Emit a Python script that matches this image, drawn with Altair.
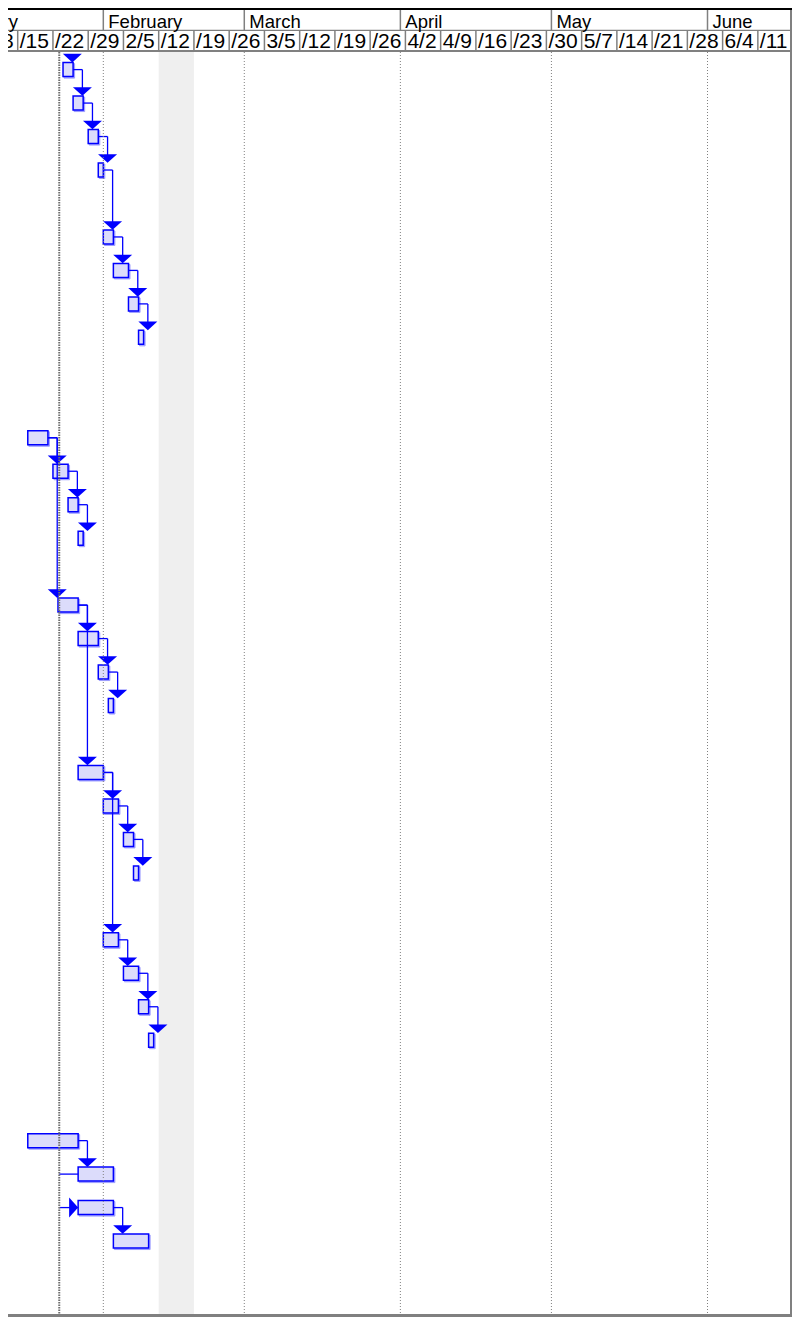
import altair as alt
import pandas as pd

# ---------------- data ----------------
month_names = ["January", "February", "March", "April", "May", "June"]
month_starts = ["2007-01-01", "2007-02-01", "2007-03-01", "2007-04-01", "2007-05-01", "2007-06-01"]

week_labels = ["1/8", "/15", "/22", "/29", "2/5", "/12", "/19", "/26", "3/5", "/12", "/19", "/26",
               "4/2", "4/9", "/16", "/23", "/30", "5/7", "/14", "/21", "/28", "6/4", "/11", ""]
week_starts = ["2007-01-08", "2007-01-15", "2007-01-22", "2007-01-29", "2007-02-05", "2007-02-12",
               "2007-02-19", "2007-02-26", "2007-03-05", "2007-03-12", "2007-03-19", "2007-03-26",
               "2007-04-02", "2007-04-09", "2007-04-16", "2007-04-23", "2007-04-30", "2007-05-07",
               "2007-05-14", "2007-05-21", "2007-05-28", "2007-06-04", "2007-06-11", "2007-06-18"]

task_rows = [0, 1, 2, 3, 5, 6, 7, 8,
             11, 12, 13, 14,
             16, 17, 18, 19,
             21, 22, 23, 24,
             26, 27, 28, 29,
             32, 33, 34, 35]
task_starts = ["2007-01-24", "2007-01-26", "2007-01-29", "2007-01-31", "2007-02-01", "2007-02-03", "2007-02-06", "2007-02-08",
               "2007-01-17", "2007-01-22", "2007-01-25", "2007-01-27",
               "2007-01-23", "2007-01-27", "2007-01-31", "2007-02-02",
               "2007-01-27", "2007-02-01", "2007-02-05", "2007-02-07",
               "2007-02-01", "2007-02-05", "2007-02-08", "2007-02-10",
               "2007-01-17", "2007-01-27", "2007-01-27", "2007-02-03"]
task_ends = ["2007-01-26", "2007-01-28", "2007-01-31", "2007-02-01", "2007-02-03", "2007-02-06", "2007-02-08", "2007-02-09",
             "2007-01-21", "2007-01-25", "2007-01-27", "2007-01-28",
             "2007-01-27", "2007-01-31", "2007-02-02", "2007-02-03",
             "2007-02-01", "2007-02-04", "2007-02-07", "2007-02-08",
             "2007-02-04", "2007-02-08", "2007-02-10", "2007-02-11",
             "2007-01-27", "2007-02-03", "2007-02-03", "2007-02-10"]

# finish-to-start links (predecessor row -> successor row)
link_from = [0, 1, 2, 3, 5, 6, 7, 11, 11, 12, 13, 16, 16, 17, 18, 21, 21, 22, 23, 26, 27, 28, 32, 34]
link_to = [1, 2, 3, 5, 6, 7, 8, 12, 16, 13, 14, 17, 21, 18, 19, 22, 26, 23, 24, 27, 28, 29, 33, 35]

# link coming from a predecessor scrolled out of view
offscreen_to_rows = [0]
offscreen_pred_ends = ["2007-01-24"]

# links entering from the left (status-date side)
stub_rows = [33, 34]
stub_has_arrow = [False, True]

status_date = "2007-01-23T06:00:00Z"
nonworking_start = ["2007-02-12"]
nonworking_end = ["2007-02-19"]

# ---------------- tables ----------------
tasks = pd.DataFrame({"row": task_rows, "start": task_starts, "end": task_ends})
end_by_row = dict(zip(task_rows, task_ends))
start_by_row = dict(zip(task_rows, task_starts))

links = pd.DataFrame({"from_row": link_from, "to_row": link_to,
                      "end": [end_by_row[r] for r in link_from]})
arrows = pd.concat([links[["end", "to_row"]],
                    pd.DataFrame({"end": offscreen_pred_ends, "to_row": offscreen_to_rows})],
                   ignore_index=True)
stubs = pd.DataFrame({"row": stub_rows, "from": [status_date] * len(stub_rows),
                      "to": [start_by_row[r] for r in stub_rows], "arrow": stub_has_arrow})
stub_arrows = stubs[stubs["arrow"]]

months = pd.DataFrame({"name": month_names, "start": month_starts})
weeks = pd.DataFrame({"label": week_labels, "start": week_starts})
band = pd.DataFrame({"start": nonworking_start, "end": nonworking_end})
status = pd.DataFrame({"date": [status_date]})
one = pd.DataFrame({"k": [0]})

# ---------------- scales ----------------
# page is 800x1325 with 8 px margins -> keep the view inside it (no scrolling)
W, H = 784, 1309
base = pd.Timestamp("2007-01-01", tz="UTC")


def ms(days):
    return int((base + pd.Timedelta(days=days)).value // 10**6)


PX_PER_DAY = 5.035
d0 = 28 - (88.2 - 8) / PX_PER_DAY          # date at left edge of the view
d1 = d0 + W / PX_PER_DAY                   # date at right edge of the view
xs = alt.Scale(type="utc", domain=[ms(d0), ms(d1)], nice=False)

ROW_PX, ROW0_Y = 33.47, 61.6
r_top = -ROW0_Y / ROW_PX
r_bot = (H - ROW0_Y) / ROW_PX
ys = alt.Scale(domain=[r_top, r_bot], reverse=True, nice=False, zero=False)

BLUE = "#0000ff"
GRAY = "#808080"
FONT = "Liberation Sans"
OFF = 9.3          # horizontal run of link lines (px)
HEAD_B = 44        # bottom of header (px)
BODY_B = H - 2     # bottom of body (px)

# ---------------- layers ----------------
shade = alt.Chart(band).mark_rect(color="#efefef").encode(
    x=alt.X("start:T", scale=xs, axis=None), x2="end:T",
    y=alt.value(HEAD_B), y2=alt.value(BODY_B))

bar_base = alt.Chart(tasks).transform_calculate(
    y0="datum.row - 0.209", y1="datum.row + 0.209")

bar_shadow = bar_base.mark_rect(fill="#b8b8ff", stroke="#9a9aff", strokeWidth=1,
                                xOffset=1, x2Offset=1.5, yOffset=1, y2Offset=1.5).encode(
    x=alt.X("start:T", scale=xs, axis=None), x2="end:T",
    y=alt.Y("y0:Q", scale=ys, axis=None), y2="y1:Q")

bars = bar_base.mark_rect(fill="#dcdcfb", stroke=BLUE, strokeWidth=1.5).encode(
    x=alt.X("start:T", scale=xs, axis=None), x2="end:T",
    y=alt.Y("y0:Q", scale=ys, axis=None), y2="y1:Q")

hlinks = alt.Chart(links).mark_rule(color=BLUE, strokeWidth=1.3, x2Offset=OFF).encode(
    x=alt.X("end:T", scale=xs, axis=None), x2="end:T",
    y=alt.Y("from_row:Q", scale=ys, axis=None))

vlinks = alt.Chart(links).mark_rule(color=BLUE, strokeWidth=1.3, xOffset=OFF, y2Offset=-11.5).encode(
    x=alt.X("end:T", scale=xs, axis=None),
    y=alt.Y("from_row:Q", scale=ys, axis=None), y2="to_row:Q")

down_arrows = alt.Chart(arrows).mark_point(
    shape="M-1,-0.45L1,-0.45L0,0.45Z", size=361, filled=True, opacity=1,
    color=BLUE, strokeWidth=0, xOffset=OFF, yOffset=-11.5).encode(
    x=alt.X("end:T", scale=xs, axis=None),
    y=alt.Y("to_row:Q", scale=ys, axis=None))

stub_lines = alt.Chart(stubs).mark_rule(color=BLUE, strokeWidth=1.3).encode(
    x=alt.X("from:T", scale=xs, axis=None), x2="to:T",
    y=alt.Y("row:Q", scale=ys, axis=None))

right_arrows = alt.Chart(stub_arrows).mark_point(
    shape="M-0.45,-1L0.45,0L-0.45,1Z", size=400, filled=True, opacity=1,
    color=BLUE, strokeWidth=0, xOffset=-4.5).encode(
    x=alt.X("to:T", scale=xs, axis=None),
    y=alt.Y("row:Q", scale=ys, axis=None))

month_grid = alt.Chart(months).mark_rule(color=GRAY, strokeWidth=1, strokeDash=[1, 2]).encode(
    x=alt.X("start:T", scale=xs, axis=None),
    y=alt.value(HEAD_B), y2=alt.value(BODY_B))

status_line = alt.Chart(status).mark_rule(color="#6e6e6e", strokeWidth=2, strokeDash=[1.5, 1]).encode(
    x=alt.X("date:T", scale=xs, axis=None),
    y=alt.value(HEAD_B), y2=alt.value(BODY_B))

# header
head_bg = alt.Chart(one).mark_rect(color="white").encode(
    x=alt.value(0), x2=alt.value(W), y=alt.value(0), y2=alt.value(HEAD_B))

top_line = alt.Chart(one).mark_rule(color="black", strokeWidth=2).encode(
    x=alt.value(0), x2=alt.value(W), y=alt.value(1))

mid_line = alt.Chart(one).mark_rule(color=GRAY, strokeWidth=1.3).encode(
    x=alt.value(0), x2=alt.value(W - 1), y=alt.value(22.3))

head_bottom = alt.Chart(one).mark_rule(color=GRAY, strokeWidth=2).encode(
    x=alt.value(0), x2=alt.value(W - 1), y=alt.value(43))

month_seps = alt.Chart(months).mark_rule(color=GRAY, strokeWidth=1.5).encode(
    x=alt.X("start:T", scale=xs, axis=None), y=alt.value(2), y2=alt.value(22))

week_seps = alt.Chart(weeks).mark_rule(color=GRAY, strokeWidth=1.5).encode(
    x=alt.X("start:T", scale=xs, axis=None), y=alt.value(22.6), y2=alt.value(42))

month_text = alt.Chart(months).mark_text(
    align="left", baseline="alphabetic", dx=5, font=FONT, fontSize=18.5, color="black").encode(
    x=alt.X("start:T", scale=xs, axis=None), y=alt.value(19.7), text="name:N")

week_text = alt.Chart(weeks).mark_text(
    align="left", baseline="alphabetic", dx=2, font=FONT, fontSize=21, color="black").encode(
    x=alt.X("start:T", scale=xs, axis=None), y=alt.value(40.3), text="label:N")

right_border = alt.Chart(one).mark_rule(color=GRAY, strokeWidth=3).encode(
    x=alt.value(W - 0.5), y=alt.value(2), y2=alt.value(H))

bottom_border = alt.Chart(one).mark_rule(color=GRAY, strokeWidth=3).encode(
    x=alt.value(0), x2=alt.value(W), y=alt.value(H - 1.5))

chart = alt.layer(
    shade, bar_shadow, bars, hlinks, vlinks, stub_lines, down_arrows, right_arrows,
    month_grid, status_line,
    head_bg, top_line, mid_line, head_bottom, month_seps, week_seps, month_text, week_text,
    right_border, bottom_border,
).properties(
    width=W, height=H,
    autosize=alt.AutoSizeParams(type="none"),
    padding=0,
).configure_view(stroke=None)

chart.save("out.html", embed_options={"renderer": "svg", "actions": False})
